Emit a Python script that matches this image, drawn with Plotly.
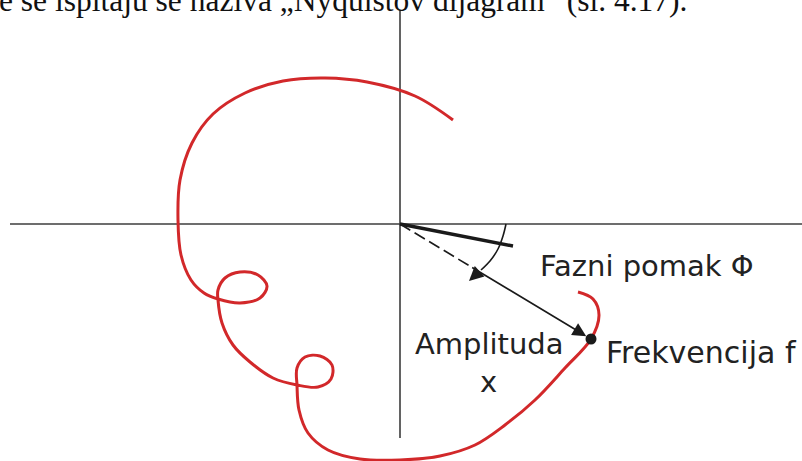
import plotly.graph_objects as go

# Nyquist locus in the complex plane (Re, Im): a spiral with two small loops
curve_re = [53, 15, -33, -75, -117, -155, -187, -208, -220, -222, -219, -209, -196, -182,
            -160, -140, -133, -142, -160, -175, -182, -182, -178, -167, -150, -127, -103,
            -82, -69, -68, -80, -95, -103, -103, -101, -92, -72, -40, 0, 40, 75, 105, 135,
            165, 191, 199, 193, 178]
curve_im = [104, 128, 142, 146, 143, 131, 110, 81, 44, 4, -31, -56, -69, -75,
            -79, -74, -62, -51, -48, -54, -66, -76, -99, -121, -138, -154, -161,
            -163, -155, -141, -132, -133, -144, -161, -186, -209, -226, -235, -236, -232, -221, -201, -176,
            -144, -115, -91, -75, -68]

# operating point at frequency f
point_re = [191]
point_im = [-115]

# zero-phase reference and the phase arc
ref_re = [0, 113]
ref_im = [0, -22]
arc_re = [106, 103, 98, 90, 81]
arc_im = [0, -12, -25, -37, -46]

labels = ["Fazni pomak Φ", "Amplituda", "x", "Frekvencija f"]
caption = "e se ispitaju se naziva „Nyquistov dijagram“ (sl. 4.17)."

RED = "#d2282a"
INK = "#1a1a1a"
AXIS = "#3c3c3c"

fig = go.Figure()

# coordinate axes
fig.add_trace(go.Scatter(x=[-390, 402], y=[0, 0], mode="lines",
                         line=dict(color=AXIS, width=1.6), hoverinfo="skip"))
fig.add_trace(go.Scatter(x=[0, 0], y=[214, -214], mode="lines",
                         line=dict(color=AXIS, width=1.6), hoverinfo="skip"))

# locus
fig.add_trace(go.Scatter(x=curve_re, y=curve_im, mode="lines",
                         line=dict(color=RED, width=3, shape="spline", smoothing=1.0),
                         hoverinfo="skip"))

# zero-phase reference
fig.add_trace(go.Scatter(x=ref_re, y=ref_im, mode="lines",
                         line=dict(color=INK, width=3.5), hoverinfo="skip"))

# phase arc
fig.add_trace(go.Scatter(x=arc_re, y=arc_im, mode="lines",
                         line=dict(color=INK, width=1.6, shape="spline"), hoverinfo="skip"))

# amplitude vector: dashed start, then solid arrow to the point
frac = 0.37
fig.add_trace(go.Scatter(x=[0, point_re[0] * frac], y=[0, point_im[0] * frac], mode="lines",
                         line=dict(color=INK, width=1.6, dash="12px,5px"), hoverinfo="skip"))

fig.add_trace(go.Scatter(x=point_re, y=point_im, mode="markers",
                         marker=dict(color=INK, size=11), hoverinfo="skip"))

annotations = [
    dict(x=point_re[0] * 0.975, y=point_im[0] * 0.975, ax=point_re[0] * frac, ay=point_im[0] * frac,
         xref="x", yref="y", axref="x", ayref="y", text="", showarrow=True,
         arrowhead=2, arrowsize=1.7, arrowwidth=1.6, arrowcolor=INK, standoff=0),
    dict(x=69, y=-57, ax=arc_re[-1], ay=arc_im[-1],
         xref="x", yref="y", axref="x", ayref="y", text="", showarrow=True,
         arrowhead=2, arrowsize=1.8, arrowwidth=1.6, arrowcolor=INK, standoff=0),
]

font = dict(family="DejaVu Sans", size=29, color="#222222")
annotations += [
    dict(x=138, y=-42, text=labels[0], xanchor="left", yanchor="middle",
         showarrow=False, font=font),
    dict(x=13, y=-120, text=labels[1], xanchor="left", yanchor="middle",
         showarrow=False, font=font),
    dict(x=88, y=-158, text=labels[2], xanchor="center", yanchor="middle",
         showarrow=False, font=font),
    dict(x=204, y=-128, text=labels[3], xanchor="left", yanchor="middle",
         showarrow=False, font=dict(family="DejaVu Sans", size=30, color="#222222")),
    dict(x=-0.004, y=1 - 1 / 461, text=caption, xref="paper", yref="paper",
         xanchor="left", yanchor="middle", showarrow=False,
         font=dict(family="Liberation Serif", size=31.5, color="#111111")),
]

fig.update_layout(
    width=802, height=461,
    margin=dict(l=0, r=0, t=0, b=0, pad=0),
    paper_bgcolor="white", plot_bgcolor="white",
    showlegend=False,
    annotations=annotations,
    xaxis=dict(range=[-400, 402], visible=False, fixedrange=True),
    yaxis=dict(range=[-237, 224], visible=False, fixedrange=True),
)

fig.write_html("out.html")
